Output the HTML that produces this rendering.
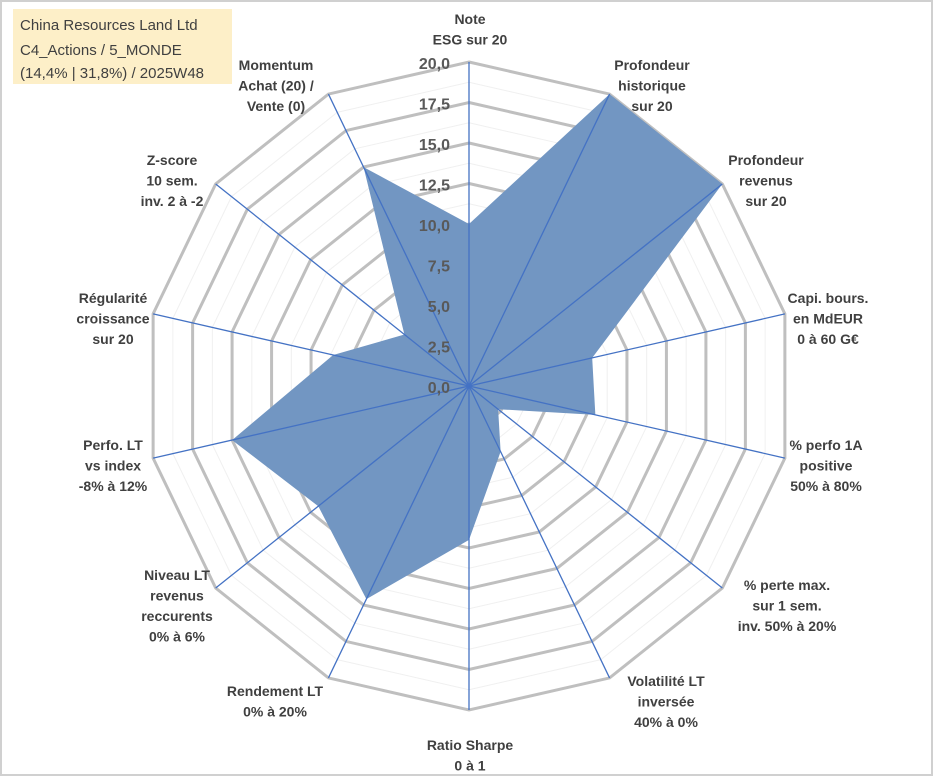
<!DOCTYPE html>
<html><head><meta charset="utf-8"><style>
body{margin:0;background:#fff}
svg{display:block;font-family:"Liberation Sans",sans-serif}
</style></head><body>
<svg id="chart" width="933" height="776">
<rect x="1" y="1" width="931" height="774" fill="#fff" stroke="#d0d0d0" stroke-width="2"/>
<g id="grid"></g><g id="series"></g><g id="spokes"></g><g id="ticks"></g><g id="labels"></g>
<rect x="13" y="9" width="219" height="75" fill="#fdefc8"/>
<text x="20" y="30" font-size="15" fill="#404040">China Resources Land Ltd</text>
<text x="20" y="55" font-size="15" fill="#404040">C4_Actions / 5_MONDE</text>
<text x="20" y="78" font-size="15" fill="#404040">(14,4% | 31,8%) / 2025W48</text>
</svg>
<script>
const categories=[["Note","ESG sur 20"],["Profondeur","historique","sur 20"],["Profondeur","revenus","sur 20"],["Capi. bours.","en MdEUR","0 à 60 G€"],["% perfo 1A","positive","50% à 80%"],["% perte max.","sur 1 sem.","inv. 50% à 20%"],["Volatilité LT","inversée","40% à 0%"],["Ratio Sharpe","0 à 1"],["Rendement LT","0% à 20%"],["Niveau LT","revenus","reccurents","0% à 6%"],["Perfo. LT","vs index","-8% à 12%"],["Régularité","croissance","sur 20"],["Z-score","10 sem.","inv. 2 à -2"],["Momentum","Achat (20) /","Vente (0)"]];
const values=[10,20,20,7.8,8,2.3,4.5,9.5,14.6,11.9,15,8.6,5.1,15];
const tickValues=[0,2.5,5,7.5,10,12.5,15,17.5,20];
const tickLabels=["0,0","2,5","5,0","7,5","10,0","12,5","15,0","17,5","20,0"];
const labelAnchors=[[470,14],[652,60],[766,155],[828,293],[826,440],[787,580],[666,676],[470,740],[275,686],[177,570],[113,440],[113,293],[172,155],[276,60]];
const cx=469,cy=386,R=324,maxV=20,N=categories.length,NS="http://www.w3.org/2000/svg";
function ang(i){return i*2*Math.PI/N;}
function pt(i,v){const r=v/maxV*R;return [cx+r*Math.sin(ang(i)),cy-r*Math.cos(ang(i))];}
function mk(t,a,p){const e=document.createElementNS(NS,t);for(const k in a)e.setAttribute(k,a[k]);p.appendChild(e);return e;}
const grid=document.getElementById('grid');
for(let k=1;k<=16;k++){const v=k*1.25;const pts=[];for(let i=0;i<N;i++)pts.push(pt(i,v).join(','));
const major=k%2===0;
const g=mk('polygon',{points:pts.join(' '),fill:'none',stroke:major?'#bfbfbf':'#f0f0f0','stroke-width':major?3:1},grid);

}
const sp=document.getElementById('spokes');
for(let i=0;i<N;i++){const p=pt(i,maxV);const l=mk('line',{x1:cx,y1:cy,x2:p[0],y2:p[1],stroke:'#4472c4','stroke-width':1.3},sp);

}
const s=document.getElementById('series');
const poly=mk('polygon',{points:values.map((v,i)=>pt(i,v).join(',')).join(' '),fill:'#7296c2',stroke:'none'},s);


const tk=document.getElementById('ticks');
tickValues.forEach((v,j)=>{const t=mk('text',{x:cx-19,y:cy-v/maxV*R+7,'text-anchor':'end','font-size':16,'font-weight':'bold',fill:'#595959'},tk);t.textContent=tickLabels[j];

});
const lb=document.getElementById('labels');
categories.forEach((lines,i)=>{const [x,y]=labelAnchors[i];const t=mk('text',{x:x,y:y+10,'text-anchor':'middle','font-size':14,'font-weight':'bold',fill:'#404040'},lb);


lines.forEach((ln,j)=>{const ts=mk('tspan',{x:x,dy:j?20.5:0},t);ts.textContent=ln;});});
</script>
</body></html>
